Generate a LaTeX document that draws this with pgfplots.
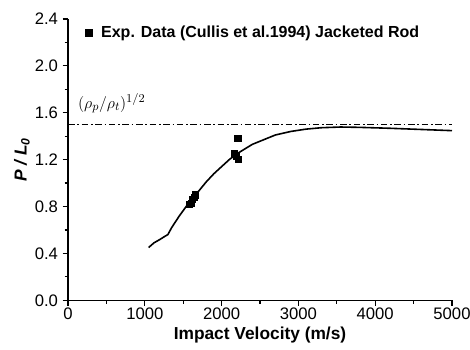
\documentclass[border=0pt]{standalone}
\usepackage{fontspec}
\setmainfont{Liberation Sans}
\usepackage{pgfplots}
\pgfplotsset{compat=1.18}
\usetikzlibrary{calc}
\begin{document}
\begin{tikzpicture}
\begin{axis}[
  name=ax,
  scale only axis,
  width=288pt, height=211pt,
  xmin=0, xmax=5000, ymin=0, ymax=2.4,
  axis x line*=bottom, axis y line*=left,
  axis line style={line width=1.1pt},
  xtick={0,1000,...,5000}, ytick={0,0.4,...,2.41},
  minor xtick={500,1500,...,4500},
  minor ytick={0.2,0.6,...,2.3},
  tick align=outside,
  major tick length=4pt, minor tick length=2.5pt,
  tick style={line width=0.9pt, black},
  /pgf/number format/assume math mode=true,
  x tick label style={/pgf/number format/set thousands separator={}, font=\fontsize{12.5}{13}\selectfont, yshift=1.5pt},
  y tick label style={/pgf/number format/.cd, fixed, fixed zerofill, precision=1, /tikz/.cd, font=\fontsize{12.5}{13}\selectfont},
  xlabel={\bfseries Impact Velocity (m/s)},
  ylabel={\bfseries\itshape P / L\textsubscript{0}},
  label style={font=\fontsize{13}{14}\selectfont},
  xlabel style={yshift=1.5pt},
  ylabel style={yshift=-3pt},
  legend style={draw=none, fill=none, at={(0.035,0.995)}, anchor=north west, font=\bfseries\fontsize{12}{14}\selectfont, legend cell align=left},
]
\addplot[only marks, mark=square*, mark size=2.3pt, black] coordinates {
(1580,0.82) (1600,0.83) (1620,0.86) (1640,0.88) (1655,0.90)
(2210,1.38) (2170,1.25) (2190,1.23) (2220,1.20)
};
\addlegendentry{\hspace{5pt}Exp. Data (Cullis et al.1994) Jacketed Rod}
\addplot[black, line width=1.2pt, forget plot] coordinates {
(1050,0.45) (1120,0.49) (1200,0.52) (1260,0.545) (1300,0.56)
(1350,0.62) (1450,0.72) (1550,0.81) (1620,0.87) (1700,0.93)
(1800,1.01) (1900,1.08) (2000,1.14) (2100,1.20) (2200,1.25)
(2300,1.29) (2400,1.33) (2550,1.37) (2700,1.41) (2900,1.44)
(3100,1.46) (3300,1.472) (3550,1.478) (3800,1.475) (4200,1.467)
(4600,1.457) (5000,1.447)
};
\addplot[black, line width=0.9pt, dash pattern=on 5pt off 2pt on 1.2pt off 2pt, forget plot] coordinates {(0,1.5) (5000,1.5)};
\node[anchor=west, font=\fontsize{13}{14}\selectfont] at (axis cs:70,1.68) {$(\rho_p/\rho_t)^{1/2}$};
\end{axis}
\pgfresetboundingbox
\path ($(ax.south west)+(-51pt,-37pt)$) rectangle ($(ax.north east)+(13.5pt,14.2pt)$);
\end{tikzpicture}
\end{document}
